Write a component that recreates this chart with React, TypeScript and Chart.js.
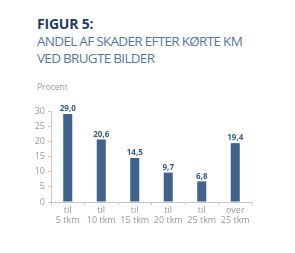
import React, { useEffect, useRef } from "react";
import { Chart, registerables } from "chart.js";

Chart.register(...registerables);

const categories: string[][] = [
  ["til", "5 tkm"],
  ["til", "10 tkm"],
  ["til", "15 tkm"],
  ["til", "20 tkm"],
  ["til", "25 tkm"],
  ["over", "25 tkm"],
];
const values: number[] = [29.0, 20.6, 14.5, 9.7, 6.8, 19.4];
const yTicks: number[] = [0, 5, 10, 15, 20, 25, 30];

const FONT = "'Open Sans', 'Noto Sans', sans-serif";

const labelPlugin = {
  id: "valueLabels",
  afterDatasetsDraw(chart: any) {
    const ctx = chart.ctx;
    const meta = chart.getDatasetMeta(0);
    ctx.save();
    ctx.font = `bold 8px ${FONT}`;
    ctx.fillStyle = "#2f5d8c";
    ctx.textAlign = "center";
    ctx.textBaseline = "bottom";
    meta.data.forEach((bar: any, i: number) => {
      const txt = values[i].toFixed(1).replace(".", ",");
      ctx.fillText(txt, bar.x, bar.y - 1);
    });
    ctx.restore();
  },
};

export default function App() {
  const ref = useRef<HTMLCanvasElement | null>(null);
  useEffect(() => {
    if (!ref.current) return;
    const chart = new Chart(ref.current, {
      type: "bar",
      data: {
        labels: categories,
        datasets: [
          {
            data: values,
            backgroundColor: "#3f638c",
            barPercentage: 0.27,
            categoryPercentage: 1,
          },
        ],
      },
      options: {
        animation: false,
        responsive: false,
        layout: { padding: { left: 0, right: 43, top: 111, bottom: 21 } },
        plugins: { legend: { display: false }, tooltip: { enabled: false } },
        scales: {
          x: {
            grid: {
              display: true,
              drawOnChartArea: false,
              offset: true,
              tickLength: 3,
              color: "#c8c8c8",
            },
            border: { color: "#c8c8c8" },
            ticks: {
              color: "#9a9a9a",
              font: { family: FONT, size: 9, lineHeight: 1.05 },
              padding: 1,
              maxRotation: 0,
            },
            afterFit: (s: any) => {
              s.height = 30;
            },
          },
          y: {
            min: 0,
            max: 30,
            afterBuildTicks: (s: any) => {
              s.ticks = yTicks.map((v) => ({ value: v }));
            },
            grid: {
              display: true,
              drawOnChartArea: false,
              tickLength: 3,
              color: "#c8c8c8",
            },
            border: { color: "#c8c8c8" },
            ticks: {
              color: "#9a9a9a",
              font: { family: FONT, size: 9 },
              padding: 3,
            },
            afterFit: (s: any) => {
              s.width = 51;
            },
          },
        },
      },
      plugins: [labelPlugin],
    });
    return () => chart.destroy();
  }, []);

  return (
    <div
      style={{
        position: "fixed",
        left: 0,
        top: 0,
        width: 295,
        height: 253,
        background: "#fff",
        fontFamily: FONT,
      }}
    >
      <div
        style={{
          position: "absolute",
          left: 37,
          top: 16,
          fontSize: 14,
          lineHeight: "16px",
          fontWeight: 700,
          color: "#1f3d66",
          letterSpacing: -0.2,
        }}
      >
        FIGUR 5:
      </div>
      <div
        style={{
          position: "absolute",
          left: 37,
          top: 33,
          fontSize: 13.5,
          lineHeight: "17px",
          color: "#5577a0",
          letterSpacing: -0.7,
          whiteSpace: "nowrap",
        }}
      >
        ANDEL AF SKADER EFTER KØRTE KM
        <br />
        VED BRUGTE BILDER
      </div>
      <div
        style={{
          position: "absolute",
          left: 37,
          top: 81,
          fontSize: 8.5,
          color: "#9a9a9a",
        }}
      >
        Procent
      </div>
      <canvas
        ref={ref}
        width={295}
        height={253}
        style={{ position: "absolute", left: 0, top: 0 }}
      />
    </div>
  );
}
